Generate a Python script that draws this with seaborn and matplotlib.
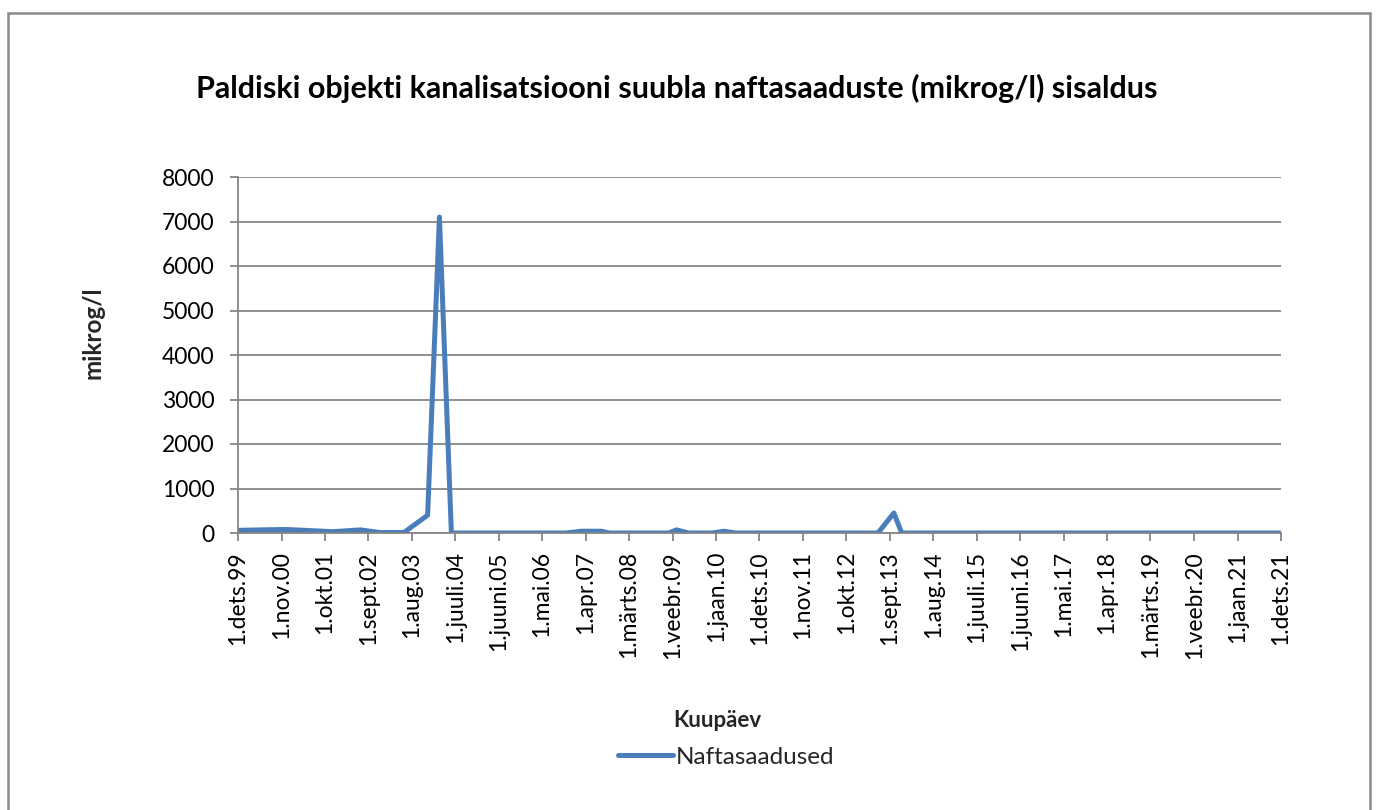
import matplotlib
matplotlib.use("Agg")
import matplotlib.pyplot as plt
import matplotlib.dates as mdates
from matplotlib.patches import Rectangle
import seaborn as sns
import pandas as pd

# ---- data ----
sample_dates = ["1999-12-01", "2000-12-01", "2001-12-01", "2002-07-01", "2002-12-01",
                "2003-06-01", "2003-12-01", "2004-03-01", "2004-06-01", "2006-11-01",
                "2007-03-01", "2007-08-01", "2007-10-01", "2009-01-01", "2009-03-01",
                "2009-06-01", "2009-12-01", "2010-03-01", "2010-06-01", "2013-06-01",
                "2013-10-01", "2013-12-01", "2021-12-01"]
naftasaadused = [60, 80, 30, 70, 10, 10, 400, 7100, 0, 0,
                 40, 40, 0, 0, 70, 0, 0, 40, 0, 0,
                 450, 0, 0]

tick_dates = ["1999-12-01", "2000-11-01", "2001-10-01", "2002-09-01", "2003-08-01",
              "2004-07-01", "2005-06-01", "2006-05-01", "2007-04-01", "2008-03-01",
              "2009-02-01", "2010-01-01", "2010-12-01", "2011-11-01", "2012-10-01",
              "2013-09-01", "2014-08-01", "2015-07-01", "2016-06-01", "2017-05-01",
              "2018-04-01", "2019-03-01", "2020-02-01", "2021-01-01", "2021-12-01"]
tick_labels = ["1.dets.99", "1.nov.00", "1.okt.01", "1.sept.02", "1.aug.03",
               "1.juuli.04", "1.juuni.05", "1.mai.06", "1.apr.07", "1.märts.08",
               "1.veebr.09", "1.jaan.10", "1.dets.10", "1.nov.11", "1.okt.12",
               "1.sept.13", "1.aug.14", "1.juuli.15", "1.juuni.16", "1.mai.17",
               "1.apr.18", "1.märts.19", "1.veebr.20", "1.jaan.21", "1.dets.21"]
y_ticks = [0, 1000, 2000, 3000, 4000, 5000, 6000, 7000, 8000]

title = "Paldiski objekti kanalisatsiooni suubla naftasaaduste (mikrog/l) sisaldus"
series_name = "Naftasaadused"

# ---- style ----
sns.set_theme(style="white")
plt.rcParams['font.family'] = ['Lato', 'DejaVu Sans']

W, H = 1378, 810
fig = plt.figure(figsize=(W / 100, H / 100), dpi=100)
ax = fig.add_axes([238 / W, 1 - 533 / H, (1281 - 238) / W, (533 - 177) / H])

df = pd.DataFrame({"date": pd.to_datetime(sample_dates), "value": naftasaadused})
line_color = "#4A7EBB"
grid_color = "#868686"

sns.lineplot(data=df, x="date", y="value", ax=ax, color=line_color,
             linewidth=3.6, label=series_name, solid_joinstyle="round",
             solid_capstyle="round")

ax.set_xlim(mdates.date2num(pd.to_datetime(tick_dates[0])),
            mdates.date2num(pd.to_datetime(tick_dates[-1])))
ax.set_ylim(0, 8000)
ax.set_yticks(y_ticks)
ax.set_yticklabels([str(v) for v in y_ticks], fontsize=16.5)
ax.set_xticks(mdates.date2num(pd.to_datetime(tick_dates)))
ax.set_xticklabels(tick_labels, rotation=90, fontsize=16.5)

ax.yaxis.grid(True, color=grid_color, linewidth=1.3)
ax.xaxis.grid(False)
ax.set_axisbelow(True)
for s in ["top", "right"]:
    ax.spines[s].set_visible(False)
for s in ["left", "bottom"]:
    ax.spines[s].set_color(grid_color)
    ax.spines[s].set_linewidth(1.3)
ax.tick_params(axis="both", which="major", direction="out", length=6, width=1.3,
               color=grid_color, labelcolor="black", bottom=True, left=True)
ax.tick_params(axis="y", pad=11)
ax.tick_params(axis="x", pad=7)

ax.set_xlabel("Kuupäev", fontsize=16, fontweight="bold")
ax.xaxis.set_label_coords((717 - 238) / 1043, (533 - 710) / 356)
ax.set_ylabel("mikrog/l", fontsize=17.5, fontweight="bold")
ax.yaxis.set_label_coords((105 - 238) / 1043, (533 - 333) / 356)

fig.text(677 / W, 1 - 88 / H, title, ha="center", va="center",
         fontsize=22, fontweight="bold", color="black")

leg = ax.legend(loc="center", bbox_to_anchor=(726 / W, 1 - 757 / H),
                bbox_transform=fig.transFigure, frameon=False, fontsize=17.5,
                handlelength=2.3, handletextpad=0.1, borderpad=0)

fig.patches.append(Rectangle((8 / W, -0.05), (1370 - 8) / W, (H - 13) / H + 0.05,
                             transform=fig.transFigure, fill=False,
                             edgecolor="#8A8A8A", linewidth=1.8))

fig.savefig("out.png", dpi=100)
